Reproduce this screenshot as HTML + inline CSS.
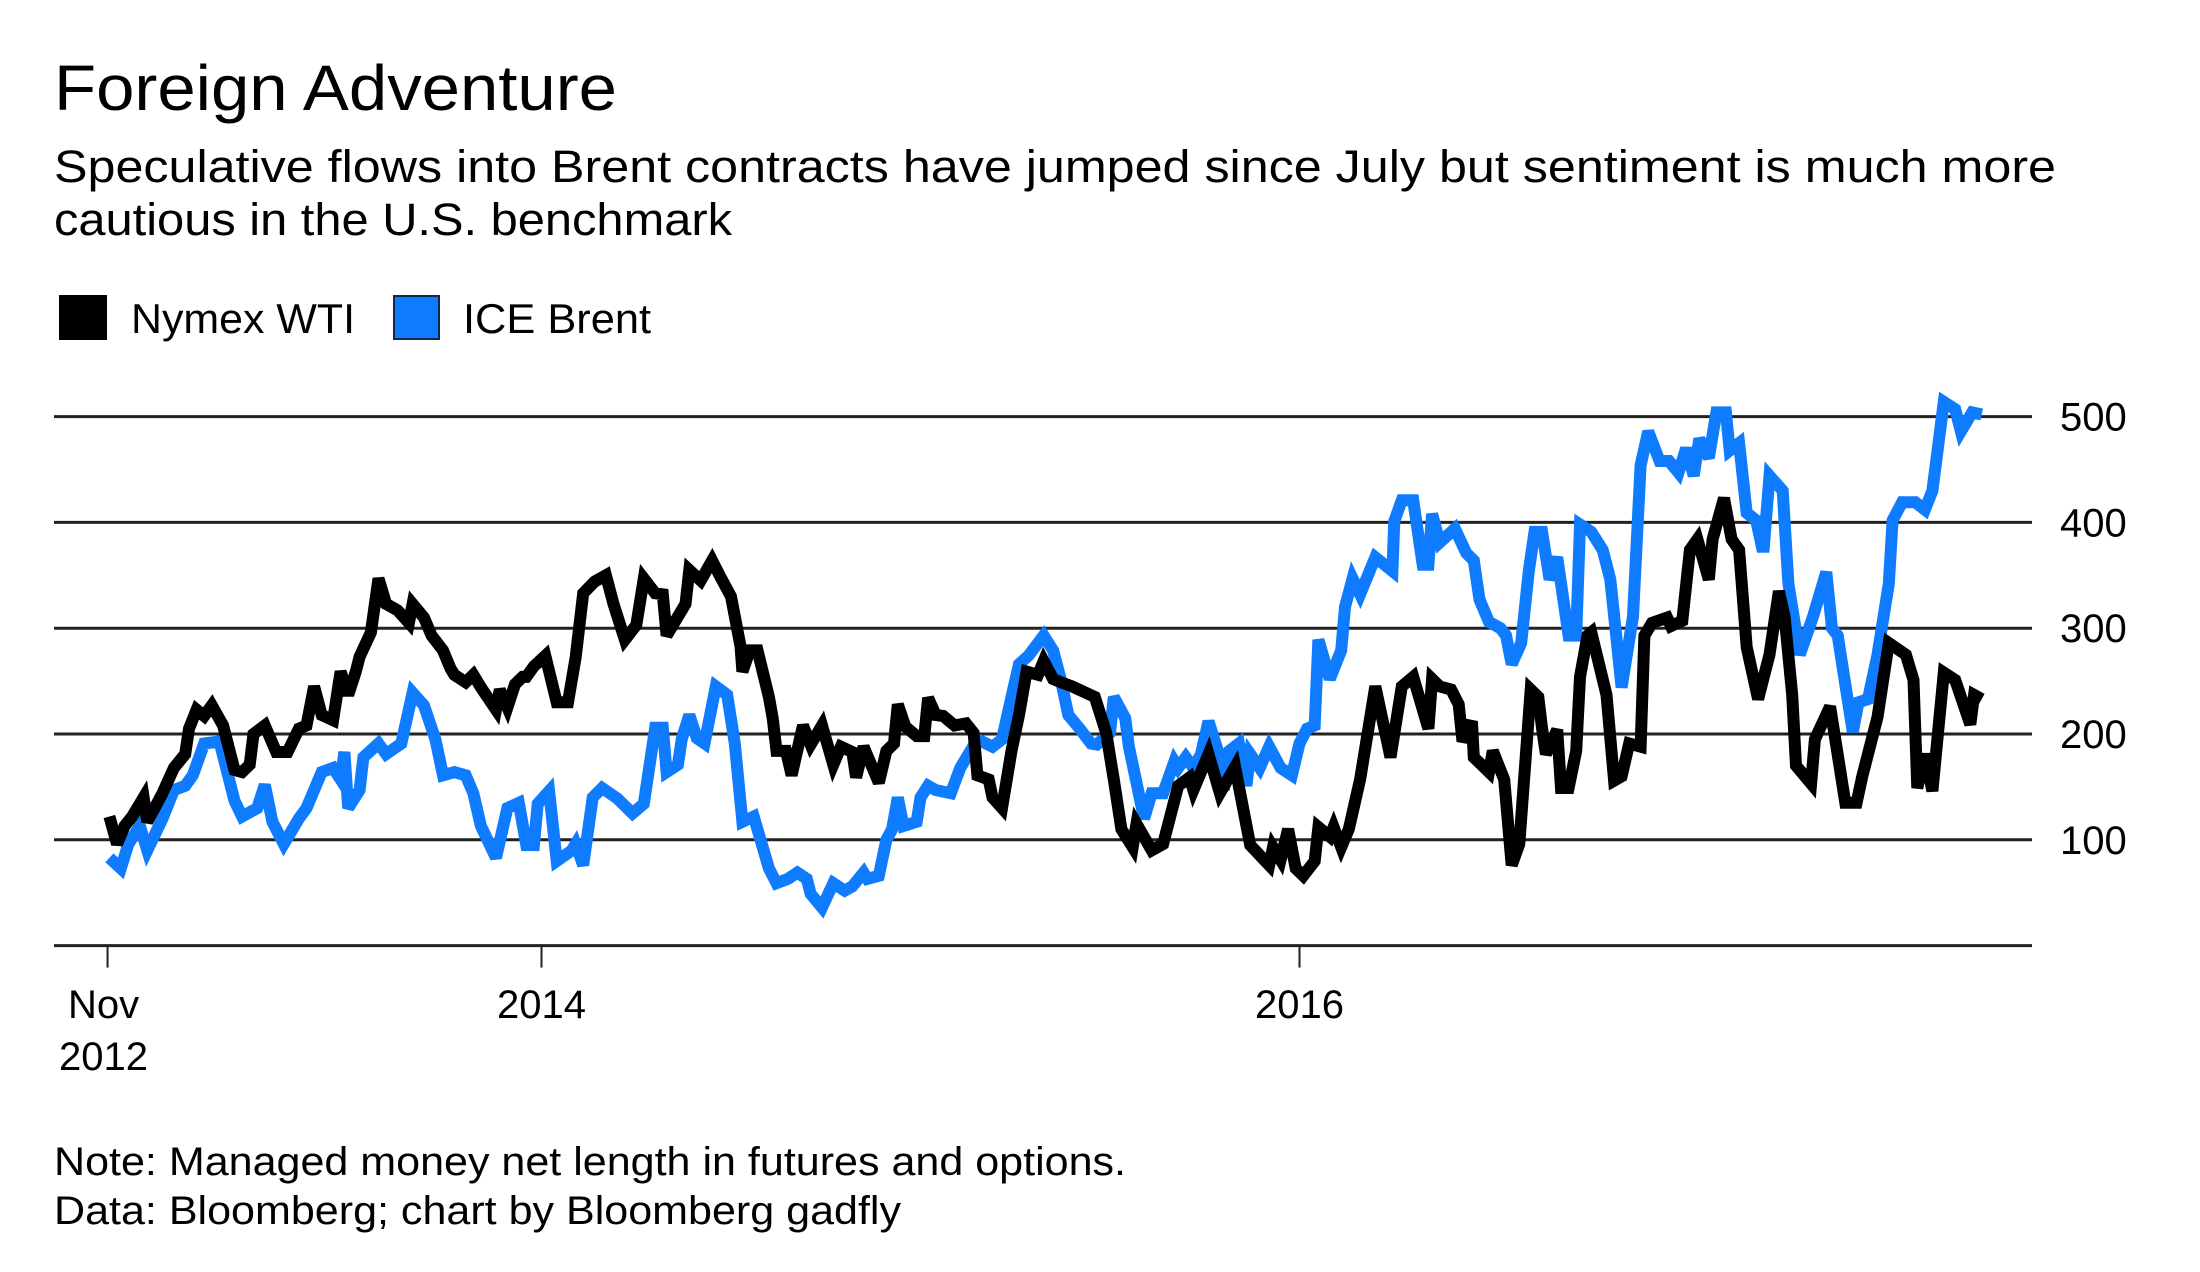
<!DOCTYPE html>
<html><head><meta charset="utf-8"><style>
html,body{margin:0;padding:0;background:#fff;}
svg{display:block;}
text{font-family:"Liberation Sans",Arial,sans-serif;fill:#000;}
</style></head><body>
<svg id="chart" width="2200" height="1272" viewBox="0 0 2200 1272" xmlns="http://www.w3.org/2000/svg">
<text x="54" y="110" font-size="64" textLength="563" lengthAdjust="spacingAndGlyphs">Foreign Adventure</text>
<text x="54" y="182" font-size="45" textLength="2002" lengthAdjust="spacingAndGlyphs">Speculative flows into Brent contracts have jumped since July but sentiment is much more</text>
<text x="54" y="235" font-size="45" textLength="678" lengthAdjust="spacingAndGlyphs">cautious in the U.S. benchmark</text>
<g>
<rect x="59" y="295" width="48" height="45" fill="#000"/>
<text x="131" y="333" font-size="42" textLength="224" lengthAdjust="spacingAndGlyphs">Nymex WTI</text>
<rect x="394" y="296" width="45" height="43" fill="#0f7cff" stroke="#0a2a55" stroke-width="2"/>
<text x="463" y="333" font-size="42" textLength="188" lengthAdjust="spacingAndGlyphs">ICE Brent</text>
</g>
<g id="grid"></g>
<g id="xaxis"></g>
<g id="series"></g>
<text x="54" y="1175" font-size="40" textLength="1072" lengthAdjust="spacingAndGlyphs">Note: Managed money net length in futures and options.</text>
<text x="54" y="1224" font-size="40" textLength="847" lengthAdjust="spacingAndGlyphs">Data: Bloomberg; chart by Bloomberg gadfly</text>
</svg>
<script>
const yTicks = [100, 200, 300, 400, 500];
const yTickLabels = ["100", "200", "300", "400", "500"];
const xTicks = [2012.855, 2014.0, 2016.0];
const xTickLabels = [["Nov", "2012"], ["2014"], ["2016"]];

const wtiDates = [2012.86,2012.88,2012.90,2012.92,2012.95,2012.96,2013.00,2013.03,2013.06,2013.07,2013.09,2013.11,2013.13,2013.16,2013.19,2013.21,2013.23,2013.24,2013.27,2013.30,2013.33,2013.36,2013.38,2013.40,2013.42,2013.45,2013.47,2013.49,2013.51,2013.52,2013.55,2013.57,2013.59,2013.62,2013.65,2013.66,2013.69,2013.71,2013.74,2013.76,2013.77,2013.80,2013.82,2013.84,2013.88,2013.89,2013.91,2013.93,2013.95,2013.96,2013.98,2014.01,2014.04,2014.07,2014.09,2014.11,2014.14,2014.17,2014.19,2014.22,2014.25,2014.27,2014.30,2014.32,2014.33,2014.38,2014.39,2014.42,2014.45,2014.47,2014.50,2014.525,2014.53,2014.55,2014.57,2014.60,2014.61,2014.62,2014.645,2014.66,2014.69,2014.71,2014.74,2014.77,2014.79,2014.82,2014.83,2014.85,2014.87,2014.89,2014.91,2014.93,2014.94,2014.96,2014.99,2015.01,2015.02,2015.04,2015.06,2015.09,2015.12,2015.14,2015.15,2015.18,2015.19,2015.215,2015.24,2015.26,2015.28,2015.31,2015.325,2015.35,2015.37,2015.40,2015.43,2015.46,2015.49,2015.51,2015.53,2015.56,2015.57,2015.61,2015.64,2015.68,2015.71,2015.72,2015.76,2015.79,2015.83,2015.87,2015.92,2015.93,2015.95,2015.97,2015.99,2016.01,2016.04,2016.05,2016.08,2016.09,2016.11,2016.13,2016.16,2016.20,2016.24,2016.27,2016.30,2016.34,2016.35,2016.37,2016.40,2016.42,2016.43,2016.455,2016.46,2016.50,2016.51,2016.54,2016.56,2016.58,2016.61,2016.63,2016.64,2016.65,2016.68,2016.69,2016.71,2016.73,2016.74,2016.76,2016.77,2016.81,2016.83,2016.85,2016.87,2016.90,2016.91,2016.93,2016.97,2016.98,2017.01,2017.03,2017.05,2017.08,2017.09,2017.12,2017.14,2017.16,2017.18,2017.21,2017.24,2017.265,2017.28,2017.30,2017.31,2017.35,2017.36,2017.40,2017.44,2017.47,2017.485,2017.525,2017.555,2017.60,2017.62,2017.63,2017.65,2017.67,2017.70,2017.73,2017.77,2017.78,2017.80];
const wtiValues = [122,96,113,122,140,117,144,168,181,205,223,217,227,208,166,164,171,200,208,183,183,205,208,245,218,213,259,237,259,273,296,347,323,317,305,323,310,293,279,262,256,249,256,244,223,242,225,247,254,254,264,274,230,230,272,333,344,350,323,289,303,347,333,332,293,323,355,345,364,350,330,283,259,279,279,235,215,184,184,161,208,190,208,171,188,183,159,188,171,154,184,191,228,207,198,198,234,218,217,208,210,201,161,157,140,130,184,218,259,256,269,252,249,245,240,235,201,157,110,93,115,90,96,151,159,147,181,144,169,95,76,93,81,110,73,66,80,112,103,112,93,110,157,245,178,245,254,205,252,245,242,228,193,212,178,164,184,157,76,96,242,235,205,181,204,149,149,184,254,293,296,237,156,160,191,188,293,305,310,302,307,374,384,346,384,423,384,374,282,233,275,335,311,237,170,153,195,226,135,135,160,216,286,275,251,149,181,146,258,251,209,237,233];

const brentDates = [2012.86,2012.89,2012.91,2012.94,2012.96,2013.00,2013.03,2013.06,2013.08,2013.11,2013.15,2013.19,2013.21,2013.25,2013.27,2013.29,2013.32,2013.36,2013.38,2013.42,2013.45,2013.47,2013.48,2013.49,2013.52,2013.53,2013.57,2013.59,2013.63,2013.66,2013.69,2013.72,2013.74,2013.77,2013.80,2013.82,2013.84,2013.88,2013.91,2013.94,2013.96,2013.98,2013.99,2014.02,2014.04,2014.08,2014.09,2014.11,2014.135,2014.16,2014.20,2014.24,2014.27,2014.30,2014.32,2014.33,2014.36,2014.37,2014.39,2014.41,2014.43,2014.46,2014.49,2014.51,2014.53,2014.56,2014.60,2014.62,2014.65,2014.675,2014.70,2014.71,2014.74,2014.77,2014.80,2014.82,2014.85,2014.86,2014.89,2014.91,2014.925,2014.94,2014.955,2014.99,2015.00,2015.02,2015.04,2015.08,2015.105,2015.15,2015.19,2015.215,2015.24,2015.26,2015.285,2015.325,2015.35,2015.37,2015.39,2015.42,2015.45,2015.465,2015.50,2015.51,2015.54,2015.55,2015.59,2015.61,2015.64,2015.67,2015.68,2015.70,2015.72,2015.74,2015.76,2015.79,2015.80,2015.815,2015.84,2015.86,2015.87,2015.895,2015.92,2015.95,2015.98,2016.00,2016.02,2016.04,2016.05,2016.08,2016.11,2016.12,2016.14,2016.16,2016.20,2016.245,2016.25,2016.27,2016.30,2016.325,2016.34,2016.35,2016.37,2016.41,2016.44,2016.46,2016.475,2016.50,2016.53,2016.545,2016.56,2016.585,2016.605,2016.62,2016.64,2016.66,2016.68,2016.71,2016.73,2016.74,2016.77,2016.80,2016.82,2016.85,2016.88,2016.90,2016.92,2016.95,2016.975,2017.00,2017.02,2017.04,2017.055,2017.08,2017.10,2017.125,2017.135,2017.16,2017.18,2017.205,2017.22,2017.225,2017.24,2017.275,2017.29,2017.32,2017.355,2017.39,2017.405,2017.42,2017.44,2017.46,2017.475,2017.50,2017.525,2017.555,2017.565,2017.59,2017.625,2017.65,2017.67,2017.70,2017.73,2017.745,2017.775,2017.80];
const brentValues = [83,73,96,113,90,120,147,151,161,191,193,137,122,130,152,117,96,120,130,164,168,157,183,130,147,178,191,181,191,239,227,195,161,164,161,144,113,83,130,135,95,95,134,146,80,90,96,76,140,149,139,125,134,206,206,164,171,195,218,196,191,245,237,191,117,122,73,59,63,69,63,49,36,59,52,56,69,63,66,100,110,140,113,117,140,151,147,144,168,195,188,195,235,266,274,293,279,252,218,205,191,190,201,235,215,188,120,144,144,174,168,178,168,181,212,178,147,184,191,151,181,168,188,168,161,191,205,208,289,252,279,320,347,332,367,354,401,421,421,360,360,408,381,394,371,364,327,306,300,293,266,286,354,391,391,346,367,293,293,398,391,374,346,244,311,454,486,458,458,447,470,444,479,461,504,504,468,475,409,402,377,377,444,430,342,275,311,353,300,293,247,202,230,233,275,342,402,419,419,412,430,514,507,486,504,502];

const NS = "http://www.w3.org/2000/svg";
const X0 = 54, X1 = 2032;
function xScale(yr){ return 541.5 + (yr - 2014) * 379; }
function yScale(v){ return 945.6 - v * 1.058; }

const grid = document.getElementById('grid');
yTicks.forEach((t, i) => {
  const l = document.createElementNS(NS, 'line');
  l.setAttribute('x1', X0); l.setAttribute('x2', X1);
  l.setAttribute('y1', yScale(t)); l.setAttribute('y2', yScale(t));
  l.setAttribute('stroke', '#222'); l.setAttribute('stroke-width', '3');
  
  
  grid.appendChild(l);
  const tx = document.createElementNS(NS, 'text');
  tx.setAttribute('x', 2060); tx.setAttribute('y', yScale(t) + 14);
  tx.setAttribute('font-size', '40');
  tx.textContent = yTickLabels[i];
  
  
  grid.appendChild(tx);
});

const xaxis = document.getElementById('xaxis');
const base = document.createElementNS(NS, 'line');
base.setAttribute('x1', X0); base.setAttribute('x2', X1);
base.setAttribute('y1', yScale(0)); base.setAttribute('y2', yScale(0));
base.setAttribute('stroke', '#222'); base.setAttribute('stroke-width', '3');


xaxis.appendChild(base);
xTicks.forEach((t, i) => {
  const x = xScale(t);
  const tk = document.createElementNS(NS, 'line');
  tk.setAttribute('x1', x); tk.setAttribute('x2', x);
  tk.setAttribute('y1', yScale(0)); tk.setAttribute('y2', yScale(0) + 22);
  tk.setAttribute('stroke', '#222'); tk.setAttribute('stroke-width', '2');
  
  
  xaxis.appendChild(tk);
  xTickLabels[i].forEach((s, j) => {
    const tx = document.createElementNS(NS, 'text');
    tx.setAttribute('x', x - (i === 0 ? 4 : 0)); tx.setAttribute('y', 1018 + j * 52);
    tx.setAttribute('font-size', '40');
    tx.setAttribute('text-anchor', 'middle');
    tx.textContent = s;
    
    
    xaxis.appendChild(tx);
  });
});

const series = document.getElementById('series');
function drawLine(dates, values, color, name){
  const p = document.createElementNS(NS, 'path');
  let d = '';
  dates.forEach((dt, i) => { d += (i ? 'L' : 'M') + xScale(dt).toFixed(1) + ' ' + yScale(values[i]).toFixed(1); });
  p.setAttribute('d', d);
  p.setAttribute('fill', 'none');
  p.setAttribute('stroke', color);
  p.setAttribute('stroke-width', '12');
  p.setAttribute('stroke-linejoin', 'miter');
  p.setAttribute('stroke-miterlimit', '3');
  
  
  series.appendChild(p);
}
drawLine(brentDates, brentValues, '#0f7cff', 'ice-brent-line');
drawLine(wtiDates, wtiValues, '#000000', 'nymex-wti-line');
</script>
</body></html>
